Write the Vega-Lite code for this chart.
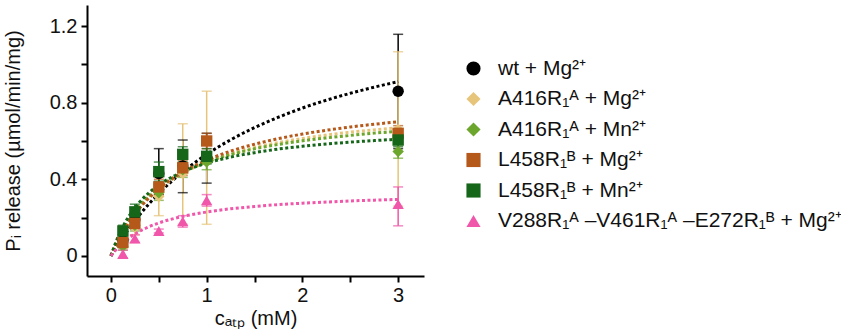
{
  "$schema": "https://vega.github.io/schema/vega-lite/v6.json",
  "width": 337,
  "height": 271,
  "autosize": "none",
  "padding": {"left": 87, "top": 5, "right": 417, "bottom": 53},
  "config": {
    "view": {"stroke": null},
    "font": "Liberation Sans",
    "axis": {
      "grid": false,
      "domainColor": "#000000",
      "domainWidth": 2,
      "tickColor": "#000000",
      "tickWidth": 2,
      "tickSize": 6,
      "labelFontSize": 20,
      "labelColor": "#111111",
      "labelFont": "Liberation Sans",
      "titleFont": "Liberation Sans",
      "titleFontSize": 20,
      "titleFontWeight": "normal",
      "titleColor": "#111111"
    },
    "legend": {"labelFont": "Liberation Sans", "labelColor": "#111111"}
  },
  "resolve": {"legend": {"color": "independent", "shape": "independent"}},
  "datasets": {
    "pts": [
      {"s": "wt + Mg²⁺", "x": 0.125, "y": 0.08, "lo": 0.05, "hi": 0.11},
      {"s": "wt + Mg²⁺", "x": 0.25, "y": 0.19, "lo": 0.15, "hi": 0.23},
      {"s": "wt + Mg²⁺", "x": 0.5, "y": 0.43, "lo": 0.32, "hi": 0.56},
      {"s": "wt + Mg²⁺", "x": 0.75, "y": 0.47, "lo": 0.33, "hi": 0.605},
      {"s": "wt + Mg²⁺", "x": 1, "y": 0.51, "lo": 0.38, "hi": 0.64},
      {"s": "wt + Mg²⁺", "x": 3, "y": 0.86, "lo": 0.56, "hi": 1.157},
      {"s": "A416R₁ᴬ + Mg²⁺", "x": 0.125, "y": 0.07, "lo": 0.04, "hi": 0.1},
      {"s": "A416R₁ᴬ + Mg²⁺", "x": 0.25, "y": 0.15, "lo": 0.11, "hi": 0.19},
      {"s": "A416R₁ᴬ + Mg²⁺", "x": 0.5, "y": 0.31, "lo": 0.21, "hi": 0.41},
      {"s": "A416R₁ᴬ + Mg²⁺", "x": 0.75, "y": 0.43, "lo": 0.165, "hi": 0.69},
      {"s": "A416R₁ᴬ + Mg²⁺", "x": 1, "y": 0.51, "lo": 0.165, "hi": 0.86},
      {"s": "A416R₁ᴬ + Mg²⁺", "x": 3, "y": 0.66, "lo": 0.26, "hi": 1.066},
      {"s": "A416R₁ᴬ + Mn²⁺", "x": 0.125, "y": 0.05, "lo": 0.03, "hi": 0.07},
      {"s": "A416R₁ᴬ + Mn²⁺", "x": 0.25, "y": 0.16, "lo": 0.13, "hi": 0.19},
      {"s": "A416R₁ᴬ + Mn²⁺", "x": 0.5, "y": 0.33, "lo": 0.29, "hi": 0.37},
      {"s": "A416R₁ᴬ + Mn²⁺", "x": 0.75, "y": 0.45, "lo": 0.41, "hi": 0.49},
      {"s": "A416R₁ᴬ + Mn²⁺", "x": 1, "y": 0.49, "lo": 0.45, "hi": 0.53},
      {"s": "A416R₁ᴬ + Mn²⁺", "x": 3, "y": 0.545, "lo": 0.51, "hi": 0.58},
      {"s": "L458R₁ᴮ + Mg²⁺", "x": 0.125, "y": 0.07, "lo": 0.05, "hi": 0.09},
      {"s": "L458R₁ᴮ + Mg²⁺", "x": 0.25, "y": 0.17, "lo": 0.14, "hi": 0.2},
      {"s": "L458R₁ᴮ + Mg²⁺", "x": 0.5, "y": 0.36, "lo": 0.32, "hi": 0.4},
      {"s": "L458R₁ᴮ + Mg²⁺", "x": 0.75, "y": 0.46, "lo": 0.42, "hi": 0.5},
      {"s": "L458R₁ᴮ + Mg²⁺", "x": 1, "y": 0.6, "lo": 0.56, "hi": 0.64},
      {"s": "L458R₁ᴮ + Mg²⁺", "x": 3, "y": 0.64, "lo": 0.6, "hi": 0.68},
      {"s": "L458R₁ᴮ + Mn²⁺", "x": 0.125, "y": 0.13, "lo": 0.1, "hi": 0.16},
      {"s": "L458R₁ᴮ + Mn²⁺", "x": 0.25, "y": 0.23, "lo": 0.19, "hi": 0.27},
      {"s": "L458R₁ᴮ + Mn²⁺", "x": 0.5, "y": 0.44, "lo": 0.39, "hi": 0.49},
      {"s": "L458R₁ᴮ + Mn²⁺", "x": 0.75, "y": 0.53, "lo": 0.49, "hi": 0.57},
      {"s": "L458R₁ᴮ + Mn²⁺", "x": 1, "y": 0.52, "lo": 0.48, "hi": 0.56},
      {"s": "L458R₁ᴮ + Mn²⁺", "x": 3, "y": 0.605, "lo": 0.57, "hi": 0.64},
      {"s": "V288R₁ᴬ –V461R₁ᴬ –E272R₁ᴮ  + Mg²⁺", "x": 0.125, "y": 0.01, "lo": -0.01, "hi": 0.03},
      {"s": "V288R₁ᴬ –V461R₁ᴬ –E272R₁ᴮ  + Mg²⁺", "x": 0.25, "y": 0.09, "lo": 0.07, "hi": 0.11},
      {"s": "V288R₁ᴬ –V461R₁ᴬ –E272R₁ᴮ  + Mg²⁺", "x": 0.5, "y": 0.13, "lo": 0.12, "hi": 0.14},
      {"s": "V288R₁ᴬ –V461R₁ᴬ –E272R₁ᴮ  + Mg²⁺", "x": 0.75, "y": 0.18, "lo": 0.15, "hi": 0.21},
      {"s": "V288R₁ᴬ –V461R₁ᴬ –E272R₁ᴮ  + Mg²⁺", "x": 1, "y": 0.29, "lo": 0.26, "hi": 0.32},
      {"s": "V288R₁ᴬ –V461R₁ᴬ –E272R₁ᴮ  + Mg²⁺", "x": 3, "y": 0.27, "lo": 0.157, "hi": 0.36}
    ],
    "fit": [
      {"s": "wt + Mg²⁺", "x": 0, "y": 0},
      {"s": "wt + Mg²⁺", "x": 0.05, "y": 0.041},
      {"s": "wt + Mg²⁺", "x": 0.1, "y": 0.08},
      {"s": "wt + Mg²⁺", "x": 0.2, "y": 0.151},
      {"s": "wt + Mg²⁺", "x": 0.3, "y": 0.215},
      {"s": "wt + Mg²⁺", "x": 0.4, "y": 0.273},
      {"s": "wt + Mg²⁺", "x": 0.5, "y": 0.326},
      {"s": "wt + Mg²⁺", "x": 0.75, "y": 0.438},
      {"s": "wt + Mg²⁺", "x": 1, "y": 0.53},
      {"s": "wt + Mg²⁺", "x": 1.25, "y": 0.606},
      {"s": "wt + Mg²⁺", "x": 1.5, "y": 0.67},
      {"s": "wt + Mg²⁺", "x": 1.75, "y": 0.724},
      {"s": "wt + Mg²⁺", "x": 2, "y": 0.772},
      {"s": "wt + Mg²⁺", "x": 2.25, "y": 0.813},
      {"s": "wt + Mg²⁺", "x": 2.5, "y": 0.849},
      {"s": "wt + Mg²⁺", "x": 2.75, "y": 0.881},
      {"s": "wt + Mg²⁺", "x": 3, "y": 0.91},
      {"s": "A416R₁ᴬ + Mg²⁺", "x": 0, "y": 0},
      {"s": "A416R₁ᴬ + Mg²⁺", "x": 0.05, "y": 0.057},
      {"s": "A416R₁ᴬ + Mg²⁺", "x": 0.1, "y": 0.106},
      {"s": "A416R₁ᴬ + Mg²⁺", "x": 0.2, "y": 0.187},
      {"s": "A416R₁ᴬ + Mg²⁺", "x": 0.3, "y": 0.252},
      {"s": "A416R₁ᴬ + Mg²⁺", "x": 0.4, "y": 0.305},
      {"s": "A416R₁ᴬ + Mg²⁺", "x": 0.5, "y": 0.349},
      {"s": "A416R₁ᴬ + Mg²⁺", "x": 0.75, "y": 0.432},
      {"s": "A416R₁ᴬ + Mg²⁺", "x": 1, "y": 0.49},
      {"s": "A416R₁ᴬ + Mg²⁺", "x": 1.25, "y": 0.532},
      {"s": "A416R₁ᴬ + Mg²⁺", "x": 1.5, "y": 0.566},
      {"s": "A416R₁ᴬ + Mg²⁺", "x": 1.75, "y": 0.592},
      {"s": "A416R₁ᴬ + Mg²⁺", "x": 2, "y": 0.613},
      {"s": "A416R₁ᴬ + Mg²⁺", "x": 2.25, "y": 0.631},
      {"s": "A416R₁ᴬ + Mg²⁺", "x": 2.5, "y": 0.646},
      {"s": "A416R₁ᴬ + Mg²⁺", "x": 2.75, "y": 0.658},
      {"s": "A416R₁ᴬ + Mg²⁺", "x": 3, "y": 0.669},
      {"s": "A416R₁ᴬ + Mn²⁺", "x": 0, "y": 0},
      {"s": "A416R₁ᴬ + Mn²⁺", "x": 0.05, "y": 0.061},
      {"s": "A416R₁ᴬ + Mn²⁺", "x": 0.1, "y": 0.113},
      {"s": "A416R₁ᴬ + Mn²⁺", "x": 0.2, "y": 0.198},
      {"s": "A416R₁ᴬ + Mn²⁺", "x": 0.3, "y": 0.263},
      {"s": "A416R₁ᴬ + Mn²⁺", "x": 0.4, "y": 0.315},
      {"s": "A416R₁ᴬ + Mn²⁺", "x": 0.5, "y": 0.358},
      {"s": "A416R₁ᴬ + Mn²⁺", "x": 0.75, "y": 0.436},
      {"s": "A416R₁ᴬ + Mn²⁺", "x": 1, "y": 0.49},
      {"s": "A416R₁ᴬ + Mn²⁺", "x": 1.25, "y": 0.529},
      {"s": "A416R₁ᴬ + Mn²⁺", "x": 1.5, "y": 0.559},
      {"s": "A416R₁ᴬ + Mn²⁺", "x": 1.75, "y": 0.582},
      {"s": "A416R₁ᴬ + Mn²⁺", "x": 2, "y": 0.601},
      {"s": "A416R₁ᴬ + Mn²⁺", "x": 2.25, "y": 0.616},
      {"s": "A416R₁ᴬ + Mn²⁺", "x": 2.5, "y": 0.629},
      {"s": "A416R₁ᴬ + Mn²⁺", "x": 2.75, "y": 0.641},
      {"s": "A416R₁ᴬ + Mn²⁺", "x": 3, "y": 0.65},
      {"s": "L458R₁ᴮ + Mg²⁺", "x": 0, "y": 0},
      {"s": "L458R₁ᴮ + Mg²⁺", "x": 0.05, "y": 0.055},
      {"s": "L458R₁ᴮ + Mg²⁺", "x": 0.1, "y": 0.103},
      {"s": "L458R₁ᴮ + Mg²⁺", "x": 0.2, "y": 0.184},
      {"s": "L458R₁ᴮ + Mg²⁺", "x": 0.3, "y": 0.25},
      {"s": "L458R₁ᴮ + Mg²⁺", "x": 0.4, "y": 0.304},
      {"s": "L458R₁ᴮ + Mg²⁺", "x": 0.5, "y": 0.35},
      {"s": "L458R₁ᴮ + Mg²⁺", "x": 0.75, "y": 0.4375},
      {"s": "L458R₁ᴮ + Mg²⁺", "x": 1, "y": 0.5},
      {"s": "L458R₁ᴮ + Mg²⁺", "x": 1.25, "y": 0.547},
      {"s": "L458R₁ᴮ + Mg²⁺", "x": 1.5, "y": 0.583},
      {"s": "L458R₁ᴮ + Mg²⁺", "x": 1.75, "y": 0.6125},
      {"s": "L458R₁ᴮ + Mg²⁺", "x": 2, "y": 0.636},
      {"s": "L458R₁ᴮ + Mg²⁺", "x": 2.25, "y": 0.656},
      {"s": "L458R₁ᴮ + Mg²⁺", "x": 2.5, "y": 0.673},
      {"s": "L458R₁ᴮ + Mg²⁺", "x": 2.75, "y": 0.6875},
      {"s": "L458R₁ᴮ + Mg²⁺", "x": 3, "y": 0.7},
      {"s": "L458R₁ᴮ + Mn²⁺", "x": 0, "y": 0},
      {"s": "L458R₁ᴮ + Mn²⁺", "x": 0.05, "y": 0.07},
      {"s": "L458R₁ᴮ + Mn²⁺", "x": 0.1, "y": 0.128},
      {"s": "L458R₁ᴮ + Mn²⁺", "x": 0.2, "y": 0.216},
      {"s": "L458R₁ᴮ + Mn²⁺", "x": 0.3, "y": 0.281},
      {"s": "L458R₁ᴮ + Mn²⁺", "x": 0.4, "y": 0.331},
      {"s": "L458R₁ᴮ + Mn²⁺", "x": 0.5, "y": 0.37},
      {"s": "L458R₁ᴮ + Mn²⁺", "x": 0.75, "y": 0.439},
      {"s": "L458R₁ᴮ + Mn²⁺", "x": 1, "y": 0.484},
      {"s": "L458R₁ᴮ + Mn²⁺", "x": 1.25, "y": 0.516},
      {"s": "L458R₁ᴮ + Mn²⁺", "x": 1.5, "y": 0.539},
      {"s": "L458R₁ᴮ + Mn²⁺", "x": 1.75, "y": 0.558},
      {"s": "L458R₁ᴮ + Mn²⁺", "x": 2, "y": 0.572},
      {"s": "L458R₁ᴮ + Mn²⁺", "x": 2.25, "y": 0.584},
      {"s": "L458R₁ᴮ + Mn²⁺", "x": 2.5, "y": 0.594},
      {"s": "L458R₁ᴮ + Mn²⁺", "x": 2.75, "y": 0.602},
      {"s": "L458R₁ᴮ + Mn²⁺", "x": 3, "y": 0.609},
      {"s": "V288R₁ᴬ –V461R₁ᴬ –E272R₁ᴮ  + Mg²⁺", "x": 0, "y": 0},
      {"s": "V288R₁ᴬ –V461R₁ᴬ –E272R₁ᴮ  + Mg²⁺", "x": 0.05, "y": 0.031},
      {"s": "V288R₁ᴬ –V461R₁ᴬ –E272R₁ᴮ  + Mg²⁺", "x": 0.1, "y": 0.057},
      {"s": "V288R₁ᴬ –V461R₁ᴬ –E272R₁ᴮ  + Mg²⁺", "x": 0.2, "y": 0.098},
      {"s": "V288R₁ᴬ –V461R₁ᴬ –E272R₁ᴮ  + Mg²⁺", "x": 0.3, "y": 0.129},
      {"s": "V288R₁ᴬ –V461R₁ᴬ –E272R₁ᴮ  + Mg²⁺", "x": 0.4, "y": 0.153},
      {"s": "V288R₁ᴬ –V461R₁ᴬ –E272R₁ᴮ  + Mg²⁺", "x": 0.5, "y": 0.172},
      {"s": "V288R₁ᴬ –V461R₁ᴬ –E272R₁ᴮ  + Mg²⁺", "x": 0.75, "y": 0.206},
      {"s": "V288R₁ᴬ –V461R₁ᴬ –E272R₁ᴮ  + Mg²⁺", "x": 1, "y": 0.229},
      {"s": "V288R₁ᴬ –V461R₁ᴬ –E272R₁ᴮ  + Mg²⁺", "x": 1.25, "y": 0.246},
      {"s": "V288R₁ᴬ –V461R₁ᴬ –E272R₁ᴮ  + Mg²⁺", "x": 1.5, "y": 0.258},
      {"s": "V288R₁ᴬ –V461R₁ᴬ –E272R₁ᴮ  + Mg²⁺", "x": 1.75, "y": 0.268},
      {"s": "V288R₁ᴬ –V461R₁ᴬ –E272R₁ᴮ  + Mg²⁺", "x": 2, "y": 0.275},
      {"s": "V288R₁ᴬ –V461R₁ᴬ –E272R₁ᴮ  + Mg²⁺", "x": 2.25, "y": 0.281},
      {"s": "V288R₁ᴬ –V461R₁ᴬ –E272R₁ᴮ  + Mg²⁺", "x": 2.5, "y": 0.287},
      {"s": "V288R₁ᴬ –V461R₁ᴬ –E272R₁ᴮ  + Mg²⁺", "x": 2.75, "y": 0.291},
      {"s": "V288R₁ᴬ –V461R₁ᴬ –E272R₁ᴮ  + Mg²⁺", "x": 3, "y": 0.295}
    ]
  },
  "layer": [
    {
      "data": {"name": "pts"},
      "mark": {"type": "rule", "strokeWidth": 1.5},
      "encoding": {
        "x": {"field": "x", "type": "quantitative", "scale": {"domain": [-0.25, 3.27], "nice": false, "zero": false},
          "axis": {"values": [0, 0.5, 1, 1.5, 2, 2.5, 3], "labelExpr": "datum.value % 1 === 0 ? format(datum.value, 'd') : ''", "title": "cₐₜₚ (mM)", "titlePadding": 3, "labelPadding": 3}},
        "y": {"field": "lo", "type": "quantitative", "scale": {"domain": [-0.105, 1.31], "nice": false, "zero": false},
          "axis": {"values": [0, 0.2, 0.4, 0.6, 0.8, 1, 1.2], "labelExpr": "(datum.value == 0 || datum.value == 0.4 || datum.value == 0.8 || datum.value == 1.2) ? format(datum.value, '~g') : ''", "title": "Pᵢ release (µmol/min/mg)", "titlePadding": 26, "labelPadding": 4}},
        "y2": {"field": "hi"},
        "color": {"field": "s", "type": "nominal", "legend": null}
      }
    },
    {
      "data": {"name": "pts"},
      "mark": {"type": "tick", "orient": "horizontal", "size": 10, "thickness": 1.5},
      "encoding": {
        "x": {"field": "x", "type": "quantitative"},
        "y": {"field": "lo", "type": "quantitative"},
        "color": {"field": "s", "type": "nominal", "legend": null}
      }
    },
    {
      "data": {"name": "pts"},
      "mark": {"type": "tick", "orient": "horizontal", "size": 10, "thickness": 1.5},
      "encoding": {
        "x": {"field": "x", "type": "quantitative"},
        "y": {"field": "hi", "type": "quantitative"},
        "color": {"field": "s", "type": "nominal", "legend": null}
      }
    },
    {
      "data": {"name": "fit"},
      "mark": {"type": "line", "strokeWidth": 3, "strokeDash": [3, 2.5], "interpolate": "monotone"},
      "encoding": {
        "x": {"field": "x", "type": "quantitative"},
        "y": {"field": "y", "type": "quantitative"},
        "color": {"field": "s", "type": "nominal", "legend": null}
      }
    },
    {
      "data": {"name": "pts"},
      "mark": {"type": "point", "filled": true, "opacity": 1, "size": 130},
      "encoding": {
        "x": {"field": "x", "type": "quantitative"},
        "y": {"field": "y", "type": "quantitative"},
        "color": {"field": "s", "type": "nominal",
          "scale": {"domain": ["wt + Mg²⁺", "A416R₁ᴬ + Mg²⁺", "A416R₁ᴬ + Mn²⁺", "L458R₁ᴮ + Mg²⁺", "L458R₁ᴮ + Mn²⁺", "V288R₁ᴬ –V461R₁ᴬ –E272R₁ᴮ  + Mg²⁺"],
            "range": ["#000000", "#E6C57A", "#6CA62C", "#B5591B", "#16661A", "#F057AA"]},
          "legend": {"orient": "none", "legendX": 376, "legendY": 53, "title": null, "labelFontSize": 21, "symbolSize": 200, "rowPadding": 8.5, "labelOffset": 14, "padding": 0, "labelLimit": 500}},
        "shape": {"field": "s", "type": "nominal",
          "scale": {"domain": ["wt + Mg²⁺", "A416R₁ᴬ + Mg²⁺", "A416R₁ᴬ + Mn²⁺", "L458R₁ᴮ + Mg²⁺", "L458R₁ᴮ + Mn²⁺", "V288R₁ᴬ –V461R₁ᴬ –E272R₁ᴮ  + Mg²⁺"],
            "range": ["circle", "diamond", "diamond", "square", "square", "triangle-up"]},
          "legend": {"orient": "none", "legendX": 376, "legendY": 53, "title": null, "labelFontSize": 21, "symbolSize": 200, "rowPadding": 8.5, "labelOffset": 14, "padding": 0, "labelLimit": 500}}
      }
    }
  ]
}
